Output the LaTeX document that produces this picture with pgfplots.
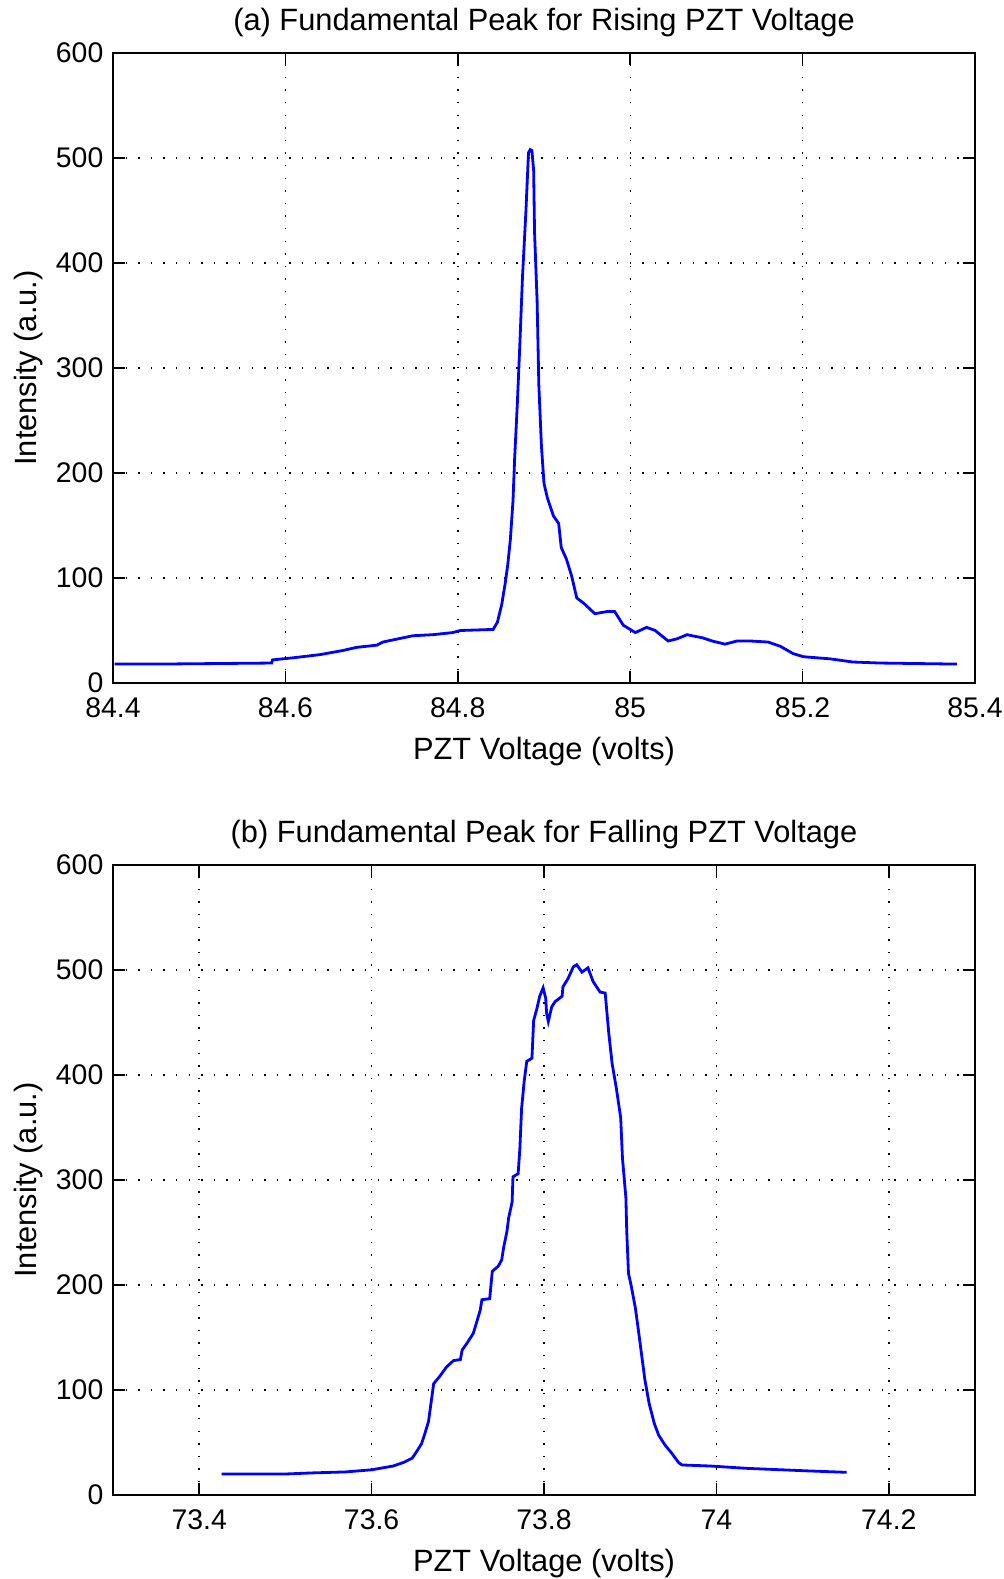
\documentclass[border=0pt]{standalone}
\usepackage{fontspec}
\setmainfont{Liberation Sans}
\usepackage{pgfplots}
\pgfplotsset{compat=1.18}
\definecolor{mblue}{RGB}{0,0,255}
\pgfplotsset{
  mystyle/.style={
    scale only axis, width=431pt, height=315pt,
    ymin=0, ymax=600, ytick={0,100,200,300,400,500,600},
    grid=major,
    major grid style={black, line width=0.7pt, dash pattern=on 0.7pt off 5.6pt},
    tick align=inside, major tick length=6pt,
    tick pos=both,
    every tick/.style={black, line width=0.8pt},
    axis line style={black, line width=0.8pt},
    /pgf/number format/assume math mode=true,
    ticklabel style={font=\fontsize{14.2}{16}\selectfont},
    yticklabel style={xshift=-1.3pt},
    xticklabel style={yshift=-4pt},
    label style={font=\fontsize{15.4}{18}\selectfont},
    title style={font=\fontsize{15.4}{18}\selectfont, at={(axis description cs:0.5,1.0286)}, anchor=center},
    xlabel style={at={(axis description cs:0.5,-0.1095)}, anchor=center},
    ylabel style={at={(axis description cs:-0.0985,0.5)}, anchor=center},
    xlabel={PZT Voltage (volts)},
    ylabel={Intensity (a.u.)},
  }
}
\begin{document}
\begin{tikzpicture}
\path[use as bounding box] (-56.5pt,-42pt) rectangle (445pt,747.5pt);
\begin{axis}[mystyle, at={(0,406pt)}, anchor=south west,
  xmin=84.4, xmax=85.4, xtick={84.4,84.6,84.8,85,85.2,85.4},
  xticklabels={84.4,84.6,84.8,85,85.2,85.4},
  title={(a) Fundamental Peak for Rising PZT Voltage}]
\addplot[mblue, line width=1.4pt] coordinates {
(84.402,18) (84.45,18) (84.584,19) (84.585,22) (84.609,24) (84.640,27)
(84.667,31) (84.683,34) (84.706,36) (84.713,39) (84.748,45) (84.771,46)
(84.794,48) (84.803,50) (84.841,51) (84.846,58) (84.851,75) (84.855,95)
(84.858,113) (84.861,137) (84.864,173) (84.866,215) (84.869,265) (84.872,323)
(84.875,386) (84.879,449) (84.882,505) (84.884,508) (84.886,507) (84.888,488)
(84.889,430) (84.892,364) (84.894,284) (84.897,226) (84.900,190) (84.904,176)
(84.911,159) (84.917,152) (84.920,129) (84.926,118) (84.932,102) (84.938,81)
(84.946,76) (84.959,66) (84.973,68) (84.982,68) (84.992,55) (85.006,48)
(85.019,53) (85.029,50) (85.044,40) (85.054,42) (85.066,46) (85.084,43)
(85.095,40) (85.110,37) (85.124,40) (85.139,40) (85.160,39) (85.174,35)
(85.189,28) (85.201,25) (85.232,23) (85.258,20) (85.290,19) (85.379,18)
};
\end{axis}
\begin{axis}[mystyle, at={(0,0)}, anchor=south west,
  xmin=73.3, xmax=74.3, xtick={73.4,73.6,73.8,74,74.2},
  xticklabels={73.4,73.6,73.8,74,74.2},
  title={(b) Fundamental Peak for Falling PZT Voltage}]
\addplot[mblue, line width=1.4pt] coordinates {
(73.426,20) (73.50,20) (73.53,21) (73.57,22) (73.60,24) (73.625,27.6)
(73.637,31) (73.647,35) (73.652,41) (73.658,49) (73.662,59) (73.666,70)
(73.669,88) (73.672,106) (73.679,113) (73.687,122) (73.695,128) (73.703,129)
(73.705,138) (73.711,145) (73.718,154) (73.722,165) (73.726,176) (73.728,186)
(73.737,187) (73.740,213) (73.747,218) (73.751,224) (73.753,235) (73.757,251)
(73.759,264) (73.763,279) (73.764,303) (73.770,306) (73.772,330) (73.774,368)
(73.777,394) (73.780,413) (73.786,416) (73.788,452) (73.792,464) (73.795,475)
(73.799,483) (73.802,473) (73.803,459) (73.805,451) (73.809,465) (73.813,470)
(73.821,475) (73.822,484) (73.828,492) (73.834,503) (73.838,505) (73.844,498)
(73.851,502) (73.857,489) (73.865,479) (73.871,478) (73.875,441) (73.879,411)
(73.884,387) (73.889,359) (73.891,321) (73.895,283) (73.896,251) (73.898,211)
(73.901,200) (73.906,178) (73.909,160) (73.913,135) (73.917,110) (73.922,87)
(73.928,68) (73.933,57) (73.940,48) (73.948,40) (73.956,31) (73.960,28.6)
(73.993,27.6) (74.035,25.4) (74.105,23) (74.151,21.6)
};
\end{axis}
\end{tikzpicture}
\end{document}
